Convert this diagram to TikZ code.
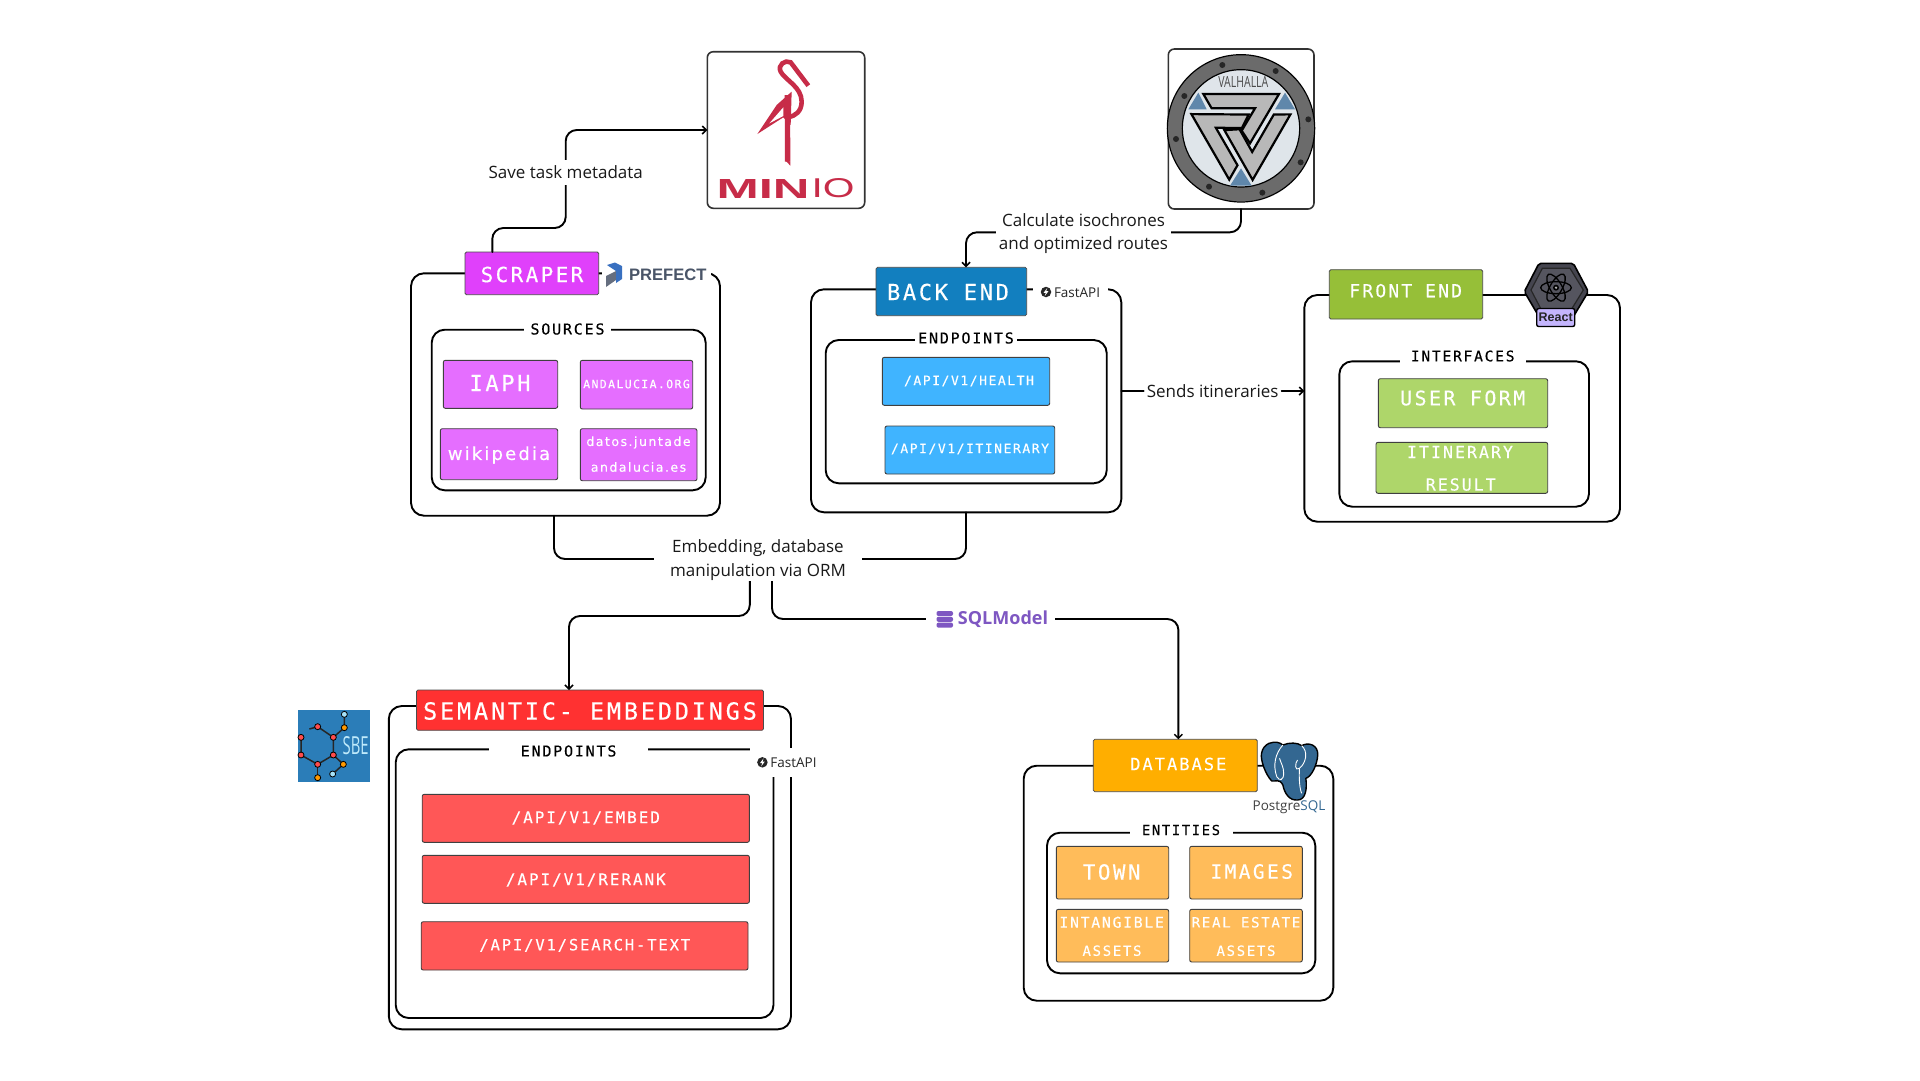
\documentclass[tikz,border=0pt]{standalone}
\usepackage{fontspec}
\usepackage{graphicx}
\usetikzlibrary{arrows.meta,calc}
\setmainfont{Open Sans}
\newfontfamily\cod[LetterSpace=12,FakeBold=0.3]{DejaVu Sans Mono}
\newfontfamily\codp[LetterSpace=12,FakeBold=0.3]{DejaVu Sans}
\newfontfamily\lib{Liberation Sans}
\newcommand\fsz[1]{\fontsize{#1}{#1}\selectfont}
\definecolor{ScrH}{HTML}{E040FB}\definecolor{ScrI}{HTML}{E56EFF}
\definecolor{BckH}{HTML}{127FBF}\definecolor{BckI}{HTML}{40B4FF}
\definecolor{FrnH}{HTML}{96BF38}\definecolor{FrnI}{HTML}{AED66A}
\definecolor{SemH}{HTML}{FF3131}\definecolor{SemI}{HTML}{FF5757}
\definecolor{DbH}{HTML}{FFAE00}\definecolor{DbI}{HTML}{FFBC5A}
\definecolor{MinC}{HTML}{C72C48}\definecolor{PgB}{HTML}{336791}
\definecolor{SqlC}{HTML}{7E57C2}\definecolor{PrefC}{HTML}{4A5568}
\definecolor{ValB}{HTML}{5F87AB}\definecolor{ValI}{HTML}{DFE5EA}
\definecolor{RctD}{HTML}{45454F}\definecolor{RctL}{HTML}{55555F}
\definecolor{RctV}{HTML}{C4B5FD}\definecolor{SbeB}{HTML}{2B7DB8}
\newcommand\mybox[6]{\pgfmathsetmacro\bw{#5-#3}\pgfmathsetmacro\bh{#6-#4}%
  \node[#2,anchor=north west,minimum width=\bw pt,minimum height=\bh pt] (#1) at (#3,#4) {};}
\tikzset{
  base/.style={inner sep=0pt,outer sep=0pt},
  outerbox/.style={base,draw=black,line width=1.9pt,rounded corners=13pt,fill=white},
  innerbox/.style={base,draw=black,line width=1.9pt,rounded corners=13pt,fill=white},
  logobox/.style={base,draw=black!80,line width=1.6pt,rounded corners=6pt,fill=white},
  head/.style={base,draw=black!70,line width=.8pt,rounded corners=1.5pt},
  item/.style={base,draw=black!75,line width=.9pt,rounded corners=2pt},
  gapbox/.style={base,fill=white},
  wt/.style={base,text=white},
  bk/.style={base,text=black},
  wire/.style={line width=1.9pt,rounded corners=11pt,line cap=round},
  arrowwire/.style={wire,-{Straight Barb[length=4pt,width=8pt,line width=1.5pt]}},
  clabel/.style={base,fill=white,align=center,text=black!90,font=\fsz{17}},
}
\newcommand\fastapi[3]{%
  \node[base,circle,fill=black!85,minimum size=10.5pt] (#1i) at (#2,#3) {};
  \fill[white] (#2+1.2,#3-4) -- (#2-2.4,#3+.8) -- (#2-.2,#3+.8) -- (#2-1.2,#3+4) -- (#2+2.4,#3-.8) -- (#2+.2,#3-.8) -- cycle;
  \node[base,anchor=west,text=black!85,font=\fsz{13.5}] (#1t) at (#2+8,#3+.5) {FastAPI};
}
\begin{document}
\begin{tikzpicture}[x=1pt,y=-1pt]
\useasboundingbox (0,0) rectangle (1920,1080);
\fill[white] (0,0) rectangle (1920,1080);

% ---------- boxes: scraper
\mybox{scrO}{outerbox}{411}{273.3}{720}{515.7}
\mybox{scrI}{innerbox}{431.7}{329.7}{705.7}{490.3}
\mybox{gapP}{gapbox}{602}{262}{711}{292}
\mybox{scrH}{head,fill=ScrH}{465}{252}{598.7}{294.7}
\node[wt,font=\cod\fsz{20.8}] (scrT) at (532,274.5) {SCRAPER};
\node[base,fill=white,minimum width=87pt,minimum height=12pt] (srcG) at (567.5,329.7) {};
\node[bk,font=\cod\fsz{15}] (srcT) at (567.5,329) {SOURCES};
\mybox{iaph}{item,fill=ScrI}{443.3}{360.3}{557.7}{408.3}
\node[wt,font=\cod\fsz{22}] at (500,383) (iaphT) {IAPH};
\mybox{anda}{item,fill=ScrI}{580.3}{360.3}{692.7}{409}
\node[wt,font=\cod\fsz{11.5}] at (636.5,384) (andaT) {ANDALUCIA.ORG};
\mybox{wiki}{item,fill=ScrI}{440.3}{428.7}{557.7}{479.7}
\node[wt,font=\codp\fsz{18}] at (499,455) (wikiT) {wikipedia};
\mybox{dato}{item,fill=ScrI}{580.3}{428.7}{697}{480.7}
\node[wt,font=\codp\fsz{12.5}] at (638.5,442.5) (datoT1) {datos.juntade};
\node[wt,font=\codp\fsz{12.5}] at (638.5,467) (datoT2) {andalucia.es};

% prefect logo
\fill[PrefC!85!white] (606,276) -- (616,271) -- (616,280) -- (606,287) -- cycle;
\fill[cyan!40!blue!85!white] (607,265) -- (615,262.5) -- (622,266) -- (622,279) -- (616,283) -- (616,271) -- cycle;
\node[base,anchor=west,text=PrefC,font=\lib\bfseries\fsz{16.6}] (prefT) at (629,275) {PREFECT};

% ---------- minio
\mybox{minio}{logobox}{707.3}{51.7}{864.7}{208.3}
\begin{scope}[shift={(400,30)},scale=1/3]
  \fill[MinC] (1072,312) -- (1130,225) -- (1175,185) -- (1172,285) -- (1150,262) -- cycle;
  \fill[white] (1108,280) -- (1150,232) -- (1150,258) -- cycle;
  \draw[MinC,line width=4.6pt] (1225,167) -- (1172,97) .. controls (1155,88) and (1132,105) .. (1142,125) .. controls (1155,150) and (1205,170) .. (1205,215) .. controls (1205,245) and (1185,258) .. (1165,262);
  \draw[MinC,line width=5.4pt] (1162,195) -- (1163,395);
  \fill[MinC] (1155,390) -- (1171,395) -- (1171,407) -- cycle;
\end{scope}
\node[base,text=MinC,font=\lib\bfseries] (minT1) at (763,188.5) {\resizebox{93pt}{19pt}{MIN}};
\node[base,text=MinC,font=\lib] (minT2) at (833,188.5) {\resizebox{43pt}{19pt}{IO}};

% ---------- valhalla
\mybox{valh}{logobox}{1168.3}{49}{1314}{209}
\begin{scope}[shift={(1160,40)},scale=1/3]
  \fill[black!58] (243,265) circle (220);
  \draw[black,line width=1.2pt] (243,265) circle (221);
  \fill[ValI] (243,265) circle (176);
  \draw[black,line width=1.2pt] (243,265) circle (176);
  \foreach \p in {(187,75),(347,93),(445,238),(422,367),(307,458),(147,440),(48,297),(73,168)} \fill[black!85] \p circle (9);
  \fill[ValB] (115,158) -- (85,208) -- (140,208) -- cycle;
  \fill[ValB] (375,158) -- (345,208) -- (405,208) -- cycle;
  \fill[ValB] (243,385) -- (210,437) -- (275,437) -- cycle;
  \node[base,text=black!70,font=\fsz{14}] (valT) at (250,125) {\resizebox{50pt}{11pt}{VALHALLA}};
  \foreach \a in {0,120,240}
    \draw[rotate around={\a:(243,268)},fill=black!28,draw=black,line width=2.2pt,line join=miter]
      (357,162) -- (130,162) -- (155,205) -- (285,205) -- (245,272) -- (270,310) -- cycle;
\end{scope}

% ---------- backend
\mybox{bckO}{outerbox}{811}{289.3}{1121.3}{512.3}
\mybox{gapF}{gapbox}{1033}{278}{1107.7}{302}
\mybox{bckH}{head,fill=BckH}{876}{267.3}{1026.7}{315.7}
\node[wt,font=\cod\fsz{22}] (bckT) at (948,292) {BACK END};
\fastapi{fa1}{1046}{292}
\mybox{bckI}{innerbox}{825.7}{340}{1106.7}{483.3}
\node[base,fill=white,minimum width=102pt,minimum height=12pt] (epG) at (966,340) {};
\node[bk,font=\cod\fsz{15}] (epT) at (966,338) {ENDPOINTS};
\mybox{hlth}{item,fill=BckI}{882.3}{357.3}{1049.7}{405.3}
\node[wt,font=\cod\fsz{13}] (hlthT) at (969,381) {/API/V1/HEALTH};
\mybox{itin}{item,fill=BckI}{885}{426}{1054.7}{474}
\node[wt,font=\cod\fsz{13}] (itinT) at (970,449) {/API/V1/ITINERARY};

% ---------- frontend
\mybox{frnO}{outerbox}{1304.3}{295}{1620}{521.7}
\mybox{frnH}{head,fill=FrnH}{1329.3}{269.7}{1482.7}{319}
\node[wt,font=\cod\fsz{18}] (frnT) at (1405.7,290.7) {FRONT END};
\mybox{frnI}{innerbox}{1339.3}{361.3}{1589}{506.7}
\node[base,fill=white,minimum width=126pt,minimum height=12pt] (ifG) at (1463,361.3) {};
\node[bk,font=\cod\fsz{14.6}] (ifT) at (1462.7,356) {INTERFACES};
\mybox{ufrm}{item,fill=FrnI}{1378.3}{378.7}{1547.7}{427.7}
\node[wt,font=\cod\fsz{20}] (ufrmT) at (1462.7,398) {USER FORM};
\mybox{ires}{item,fill=FrnI}{1376}{442.3}{1547.7}{493.3}
\node[wt,font=\cod\fsz{16.6}] (iresT1) at (1460,452) {ITINERARY};
\node[wt,font=\cod\fsz{16.6}] (iresT2) at (1460.7,484.5) {RESULT};
% react logo
\begin{scope}[shift={(1515,255)},scale=1/3]
  \fill[RctD,draw=black,line width=1.6pt,rounded corners=2pt] (28,110) -- (72,25) -- (175,25) -- (220,110) -- (175,185) -- (72,185) -- cycle;
  \draw[black!85,line width=1.2pt,fill=RctL] (48,105) -- (82,40) -- (165,40) -- (205,105) -- (165,170) -- (82,170) -- cycle;
  \draw[black,line width=1.3pt] (123,98) ellipse (46 and 18);
  \draw[black,line width=1.3pt,rotate around={60:(123,98)}] (123,98) ellipse (46 and 18);
  \draw[black,line width=1.3pt,rotate around={-60:(123,98)}] (123,98) ellipse (46 and 18);
  \fill[black] (123,98) circle (9);
  \fill[white!70!black] (123,98) circle (4);
\end{scope}
\node[base,anchor=north west,draw=black,line width=1.4pt,rounded corners=2pt,fill=RctV,minimum width=38pt,minimum height=18pt] (rctB) at (1536.7,308.5) {};
\node[base,text=black!85,font=\lib\bfseries\fsz{12.5}] (rctT) at (rctB) {React};

% ---------- semantic
\mybox{semO}{outerbox}{388.8}{706}{791}{1029.3}
\mybox{semI}{innerbox}{395.7}{749.3}{773.5}{1018}
\node[base,fill=white,minimum width=159.5pt,minimum height=12pt] (sepG) at (568.7,749.3) {};
\node[bk,font=\cod\fsz{15}] (sepT) at (568.6,751) {ENDPOINTS};
\mybox{gapS}{gapbox}{750}{748}{825}{777}
\mybox{semH}{head,fill=SemH}{416.4}{690}{763.5}{730.3}
\node[wt,font=\cod\fsz{23.5}] (semT) at (590,711) {SEMANTIC- EMBEDDINGS};
\fastapi{fa2}{762.4}{762.3}
\mybox{embd}{item,fill=SemI}{422.2}{794.3}{749.4}{842.3}
\node[wt,font=\cod\fsz{16}] (embdT) at (585.8,818) {/API/V1/EMBED};
\mybox{rrnk}{item,fill=SemI}{422.2}{855.3}{749.4}{903.3}
\node[wt,font=\cod\fsz{16}] (rrnkT) at (585.8,880) {/API/V1/RERANK};
\mybox{srch}{item,fill=SemI}{421.2}{921.7}{748}{970}
\node[wt,font=\cod\fsz{15.5}] (srchT) at (584.8,945.3) {/API/V1/SEARCH-TEXT};
% SBE logo
\begin{scope}[shift={(290,705)},scale=1/3]
  \fill[SbeB] (25,15) rectangle (240,232);
  \draw[black!85,line width=1.5pt] (58,72) -- (83,65) -- (130,97) -- (130,150) -- (83,178) -- (33,150) -- (33,97);
  \draw[black!85,line width=1.5pt] (130,97) -- (163,68) -- (163,28);
  \draw[black!85,line width=1.5pt] (130,150) -- (160,178) -- (128,207);
  \draw[black!85,line width=1.5pt] (83,178) -- (83,218);
  \foreach \p in {(83,65),(130,97),(130,150),(83,178),(33,150),(33,97)} \draw[black,fill=red!70!white,line width=.8pt] \p circle (9);
  \foreach \p in {(163,68),(160,178),(83,218)} \draw[black,fill=orange!80!yellow,line width=.8pt] \p circle (9);
  \foreach \p in {(163,28),(128,207)} \draw[black,fill=cyan!35!white,line width=.8pt] \p circle (9);
  \node[base,text=cyan!25!white] (sbeT) at (197,122) {\resizebox{26pt}{18pt}{SBE}};
\end{scope}

% ---------- database
\mybox{dbO}{outerbox}{1023.7}{765.7}{1333.3}{1000.7}
\mybox{dbH}{head,fill=DbH}{1093.3}{739.3}{1257.3}{791.7}
\node[wt,font=\cod\fsz{17}] (dbT) at (1178.3,764) {DATABASE};
\mybox{dbI}{innerbox}{1047}{832.7}{1315.3}{973.3}
\node[base,fill=white,minimum width=103pt,minimum height=12pt] (enG) at (1181,832.7) {};
\node[bk,font=\cod\fsz{13.8}] (enT) at (1181,830) {ENTITIES};
\mybox{town}{item,fill=DbI}{1056.3}{846.3}{1168.7}{899}
\node[wt,font=\cod\fsz{20.8}] (townT) at (1111.7,872) {TOWN};
\mybox{imgs}{item,fill=DbI}{1189.7}{846.3}{1302.3}{899}
\node[wt,font=\cod\fsz{19.6}] (imgsT) at (1251.7,871.5) {IMAGES};
\mybox{intg}{item,fill=DbI}{1056.3}{909.3}{1168.7}{962}
\node[wt,font=\cod\fsz{14.7}] (intgT1) at (1111.7,922.3) {INTANGIBLE};
\node[wt,font=\cod\fsz{14}] (intgT2) at (1112,950.7) {ASSETS};
\mybox{rest}{item,fill=DbI}{1189.7}{909.3}{1302.3}{962}
\node[wt,font=\cod\fsz{14.1}] (restT1) at (1246,922.3) {REAL ESTATE};
\node[wt,font=\cod\fsz{14}] (restT2) at (1246,950.7) {ASSETS};
% postgres logo
\begin{scope}[shift={(1251.87,735)},xscale=.2767,yscale=1/3]
  \draw[black,line width=1.4pt,fill=PgB,line join=round]
    (62,25) .. controls (85,18) and (100,22) .. (112,30) .. controls (135,22) and (165,22) .. (180,32)
    .. controls (205,20) and (240,30) .. (238,60) .. controls (236,90) and (215,125) .. (195,130)
    .. controls (200,160) and (195,195) .. (165,195) .. controls (135,197) and (118,175) .. (112,150)
    .. controls (100,130) and (85,140) .. (72,138) .. controls (50,120) and (30,75) .. (35,55)
    .. controls (38,40) and (48,30) .. (62,25) -- cycle;
  \draw[white,line width=.9pt] (112,30) .. controls (85,55) and (75,90) .. (90,125) .. controls (100,140) and (115,135) .. (115,115) .. controls (115,95) and (105,85) .. (100,70);
  \draw[white,line width=.9pt] (180,32) .. controls (205,50) and (195,85) .. (172,100) .. controls (155,110) and (155,85) .. (165,75);
  \draw[white,line width=.9pt] (172,100) .. controls (170,130) and (172,160) .. (180,175);
\end{scope}
\node[base,text=black!75,font=\fsz{13.5}] (pgT) at (1289,807) {Postgre\textcolor{PgB}{SQL}};

% ---------- connectors
\coordinate (s1) at (492.3,228);
\coordinate (s2) at (565.7,228);
\coordinate (s3) at (565.7,130);
\coordinate (s0) at (492.3,252);
\draw[arrowwire] (scrH.north -| s0) -- (s1) -- (s2) -- (s3) -- (minio.west);
\node[clabel,minimum height=25pt] (saveL) at (565.7,172.5) {Save task metadata};

\coordinate (v1) at (1241,232.3);
\coordinate (v2) at (966,232.3);
\draw[arrowwire] (valh.south -| v1) -- (v1) -- (v2) -- (bckH.north -| v2);
\node[clabel,minimum width=175pt,minimum height=46pt,execute at begin node={\setlength{\baselineskip}{23pt}}] (calcL) at (1083.5,234) {Calculate isochrones\\and optimized routes};

\node[clabel,minimum width=138pt,minimum height=22pt] (sendL) at (1212.7,391) {Sends itineraries};
\draw[wire] (bckO.east |- sendL) -- (sendL.west);
\draw[arrowwire] (sendL.east) -- (frnO.west |- sendL);

\coordinate (e1) at (554,559);
\coordinate (e2) at (966,559);
\coordinate (d0) at (749.8,580);
\coordinate (d1) at (749.8,616);
\coordinate (d2) at (569,616);
\coordinate (r0) at (772,580);
\coordinate (r1) at (772,619);
\coordinate (r2) at (1178.4,619);
\draw[wire] (scrO.south -| e1) -- (e1) -- (e2) -- (bckO.south -| e2);
\draw[arrowwire] (d0) -- (d1) -- (d2) -- (semH.north -| d2);
\draw[arrowwire] (r0) -- (r1) -- (r2) -- (dbH.north -| r2);
\node[clabel,minimum width=208pt,minimum height=42pt,execute at begin node={\setlength{\baselineskip}{23.7pt}}] (embL) at (758,560) {Embedding, database\\manipulation via ORM};
\node[base,fill=white,minimum width=129pt,minimum height=24pt] (sqlG) at (990.8,619) {};
\fill[SqlC,rounded corners=2pt] (936.5,611) rectangle (953,616);
\fill[SqlC,rounded corners=2pt] (936.5,616.8) rectangle (953,621.8);
\fill[SqlC,rounded corners=2pt] (936.5,622.6) rectangle (953,627.6);
\node[base,text=SqlC,font=\bfseries\fsz{18}] (sqlT) at (1003,619.5) {SQLModel};
\end{tikzpicture}
\end{document}
